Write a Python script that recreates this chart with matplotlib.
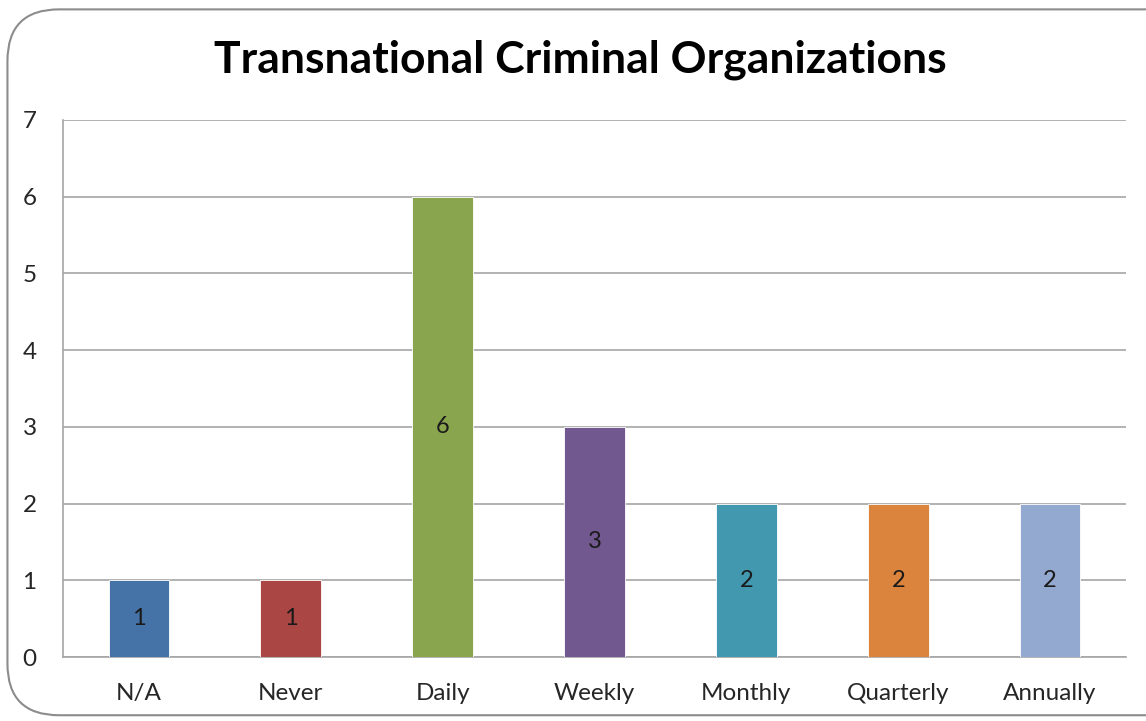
import matplotlib.pyplot as plt
from matplotlib.patches import FancyBboxPatch

categories = ['N/A', 'Never', 'Daily', 'Weekly', 'Monthly', 'Quarterly', 'Annually']
counts = [1, 1, 6, 3, 2, 2, 2]
colors = ['#4572A7', '#AA4643', '#89A54E', '#71588F', '#4198AF', '#DB843D', '#93A9CF']

plt.rcParams['font.family'] = ['Lato', 'DejaVu Sans']

fig = plt.figure(figsize=(11.46, 7.21), dpi=100)

# rounded chart border, kept behind the axes
frame = FancyBboxPatch((0.0065, 0.008), 1.05, 0.979, transform=fig.transFigure,
                       boxstyle='round,pad=0,rounding_size=0.045',
                       facecolor='white', edgecolor='#8c8c8c', linewidth=1.5,
                       mutation_aspect=1146 / 721, zorder=-1)
fig.patches.append(frame)

ax = fig.add_axes([63 / 1146, 1 - 657 / 721, (1126 - 63) / 1146, (657 - 120) / 721])
ax.set_facecolor('none')

x = range(len(categories))
bars = ax.bar(x, counts, width=0.4, color=colors, edgecolor='white', linewidth=0.6, zorder=3)
for b, v in zip(bars, counts):
    ax.text(b.get_x() + b.get_width() / 2, v / 2, str(v), ha='center', va='center',
            fontsize=17, color='#1a1a1a', zorder=4)

ax.set_xlim(-0.5, len(categories) - 0.5)
ax.set_ylim(0, 7)
ax.set_yticks(range(0, 8))
ax.set_xticks(list(x))
ax.set_xticklabels(categories)
ax.yaxis.grid(True, color='#a6a6a6', linewidth=1.2, zorder=0)
ax.tick_params(axis='both', length=0, labelsize=17.5, colors='#262626')
ax.tick_params(axis='x', pad=19)
ax.tick_params(axis='y', pad=19)
for s in ['top', 'right']:
    ax.spines[s].set_visible(False)
ax.spines['left'].set_color('#a6a6a6')
ax.spines['bottom'].set_color('#a6a6a6')
ax.spines['left'].set_linewidth(1.2)
ax.spines['bottom'].set_linewidth(1.2)

fig.text(580 / 1146, 1 - 60 / 721, 'Transnational Criminal Organizations', ha='center', va='center',
         fontsize=32, fontweight='bold', color='black')

fig.savefig('out.png', dpi=100)
